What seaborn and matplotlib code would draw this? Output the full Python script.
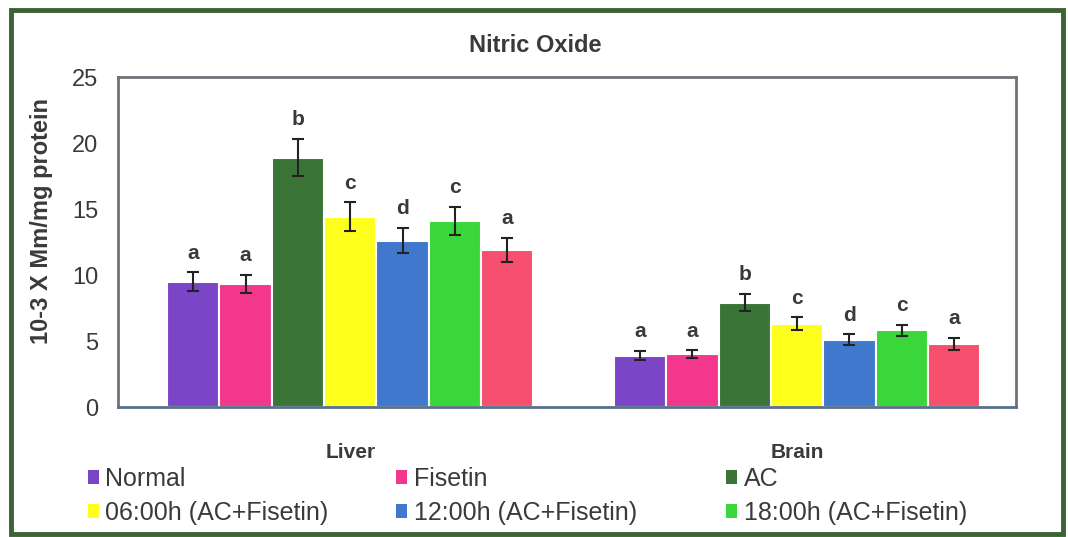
import matplotlib.pyplot as plt
import seaborn as sns
import pandas as pd
from matplotlib.patches import Rectangle, Patch

tissues = ['Liver', 'Brain']
groups = ['Normal', 'Fisetin', 'AC', '06:00h (AC+Fisetin)',
          '12:00h (AC+Fisetin)', '18:00h (AC+Fisetin)', 'Unlabelled']
colors = ['#7a45c6', '#f2378c', '#3a7436', '#ffff1e', '#3f78cc', '#3ad63a', '#f74f6e']

liver_means = [9.5, 9.3, 18.9, 14.4, 12.6, 14.1, 11.9]
liver_err = [0.7, 0.7, 1.4, 1.1, 0.95, 1.05, 0.9]
brain_means = [3.9, 4.0, 7.9, 6.3, 5.1, 5.8, 4.8]
brain_err = [0.35, 0.3, 0.65, 0.5, 0.4, 0.45, 0.45]
letters = ['a', 'a', 'b', 'c', 'd', 'c', 'a']

rows = []
for t, means, errs in [('Liver', liver_means, liver_err), ('Brain', brain_means, brain_err)]:
    for g, m, e, l in zip(groups, means, errs, letters):
        rows.append({'tissue': t, 'group': g, 'value': m, 'err': e, 'letter': l})
df = pd.DataFrame(rows)

sns.set_theme(style='white')
plt.rcParams['font.family'] = ['Liberation Sans', 'DejaVu Sans']
txt = '#3a3a3a'

fig = plt.figure(figsize=(10.68, 5.37), dpi=100)
ax = fig.add_axes([118 / 1068, 1 - 407 / 537, 898 / 1068, 330 / 537])

sns.barplot(data=df, x='tissue', y='value', hue='group', order=tissues,
            hue_order=groups, palette=colors, saturation=1, width=0.82, errorbar=None,
            edgecolor='white', linewidth=1.5, legend=False, ax=ax)

# error bars and significance letters on each bar
bar_groups = list(ax.containers)
for gi, cont in enumerate(bar_groups):
    for ti, bar in enumerate(cont):
        r = df[(df.tissue == tissues[ti]) & (df.group == groups[gi])].iloc[0]
        x = bar.get_x() + bar.get_width() / 2
        h = bar.get_height()
        ax.errorbar(x, h, yerr=r.err, fmt='none', ecolor='#222222',
                    elinewidth=1.5, capsize=4.5, capthick=1.5)
        ax.annotate(r.letter, (x, h + r.err), xytext=(0, 7), textcoords='offset points',
                    ha='center', va='bottom', fontsize=15, fontweight='bold', color=txt)

ax.set_ylim(0, 25)
ax.set_yticks([0, 5, 10, 15, 20, 25])
ax.set_xlim(-0.52, 1.49)
ax.set_xlabel('')
ax.set_ylabel('10-3 X Mm/mg protein', fontsize=17, fontweight='bold', color=txt)
ax.yaxis.set_label_coords(-0.072, 0.565)
ax.tick_params(axis='y', length=0, pad=14, labelsize=17, labelcolor=txt)
ax.tick_params(axis='x', length=0, pad=26, labelsize=15, labelcolor=txt)
for lab in ax.get_xticklabels():
    lab.set_fontweight('bold')
for s in ax.spines.values():
    s.set_color('#6f7378')
    s.set_linewidth(2)
ax.spines['bottom'].set_color('#5a6f8c')

fig.text(535 / 1068, 1 - 45 / 537, 'Nitric Oxide', ha='center', va='center',
         fontsize=17, fontweight='bold', color=txt)

# legend: three columns placed separately
col_x = [88, 396, 726]
for c in range(3):
    idx = [c, c + 3]
    handles = [Patch(facecolor=colors[i], edgecolor='none') for i in idx]
    leg = fig.legend(handles, [groups[i] for i in idx], loc='upper left',
                     bbox_to_anchor=(col_x[c] / 1068, 1 - 467 / 537), frameon=False,
                     fontsize=18, handlelength=0.45, handleheight=0.45, handletextpad=0.25,
                     labelspacing=0.4, borderpad=0, borderaxespad=0)
    for t in leg.get_texts():
        t.set_color(txt)

fig.patches.append(Rectangle((11 / 1068, 3 / 537), 1052 / 1068, 524 / 537,
                             transform=fig.transFigure, fill=False,
                             edgecolor='#3b6333', linewidth=3.5))

fig.savefig('out.png', dpi=100)
